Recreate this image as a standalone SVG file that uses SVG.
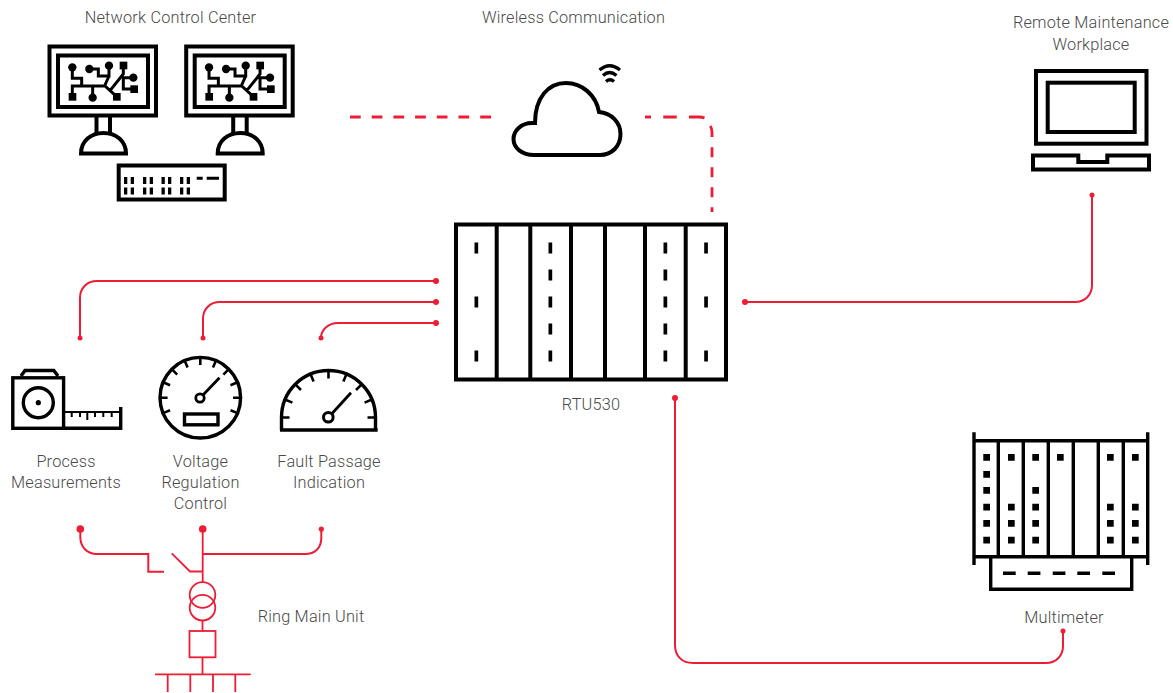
<svg xmlns="http://www.w3.org/2000/svg" width="1173" height="693" viewBox="0 0 1173 693">
<style>
.k{fill:none;stroke:#000;stroke-width:4;stroke-linejoin:miter}
.k3{fill:none;stroke:#000;stroke-width:3.4}
.f{fill:#000}
.r{fill:none;stroke:#ee1c35;stroke-width:2}
.r1{fill:none;stroke:#ee1c35;stroke-width:1.8}
.d{fill:#ee1c35}
.dash{fill:none;stroke:#ee1c35;stroke-width:2.8}
text{font-family:"Roboto","Liberation Sans",sans-serif;font-weight:300;font-size:16.3px;letter-spacing:.2px;fill:#4a4a4a;text-anchor:middle}
</style>
<defs>
<g id="monitor">
<rect class="k" x="49.5" y="46.5" width="106.5" height="69"/>
<rect class="k" x="58" y="55.5" width="90" height="51.5"/>
<path class="k" d="M96.5 116V133M110 116V133"/>
<path class="k" d="M81 153.5C81 141 91 133 103.500 133C116 133 126 141 126 153.500Z"/>
<g transform="translate(55 50) scale(.3333)">
<path fill="none" stroke="#000" stroke-width="9" d="M52 52V85H80V108H52V140M113 143V108M80 108H150L185 140M103 57H130V78H162V47M162 78L150 105M205 47V72L165 122M235 83H205V117H237"/>
<circle cx="52" cy="52" r="12.500" class="f"/><circle cx="103" cy="57" r="12.500" class="f"/><circle cx="162" cy="47" r="12.500" class="f"/><circle cx="113" cy="143" r="12.500" class="f"/><circle cx="235" cy="83" r="12.500" class="f"/>
<rect x="41" y="129" width="23" height="23" class="f"/><rect x="174" y="129" width="23" height="23" class="f"/><rect x="194" y="35" width="23" height="23" class="f"/><rect x="226" y="106" width="23" height="23" class="f"/>
</g>
</g>
</defs>

<g id="connectors">
<path class="dash" d="M350 117H360.700M371.700 117H382.400M393.400 117H404.100M415.100 117H425.800M436.800 117H447.500M458.500 117H469.200M480.200 117H491"/>
<path class="dash" d="M645 117H651M663.300 117H676.700M689 117H699C701 117 703 117.300 704.500 118M710.300 126C711.600 128 712 130 712 132V137M712 147.300V157.300M712 167.300V177.300M712 187.300V197.300M712 207.300V212"/>
<path class="r" d="M436 281H97C87 281 80 288 80 298V338"/>
<path class="r" d="M436 302H220C210 302 203 309 203 319V338"/>
<path class="r" d="M436 323H338C328 323 321 330 321 338"/>
<path class="r" d="M745 302H1075C1085 302 1092 295 1092 285V195"/>
<path class="r" d="M675 398V645C675 656 682 663 693 663H1046C1056 663 1063 656 1063 646V631"/>
<path class="r" d="M80.300 529V537C80.300 547 87 554 97 554H148.300V571.700H164"/>
<path class="r" d="M202.700 554H305C315 554 321.300 548 321.300 538V529"/>
<g class="d">
<circle cx="436" cy="281" r="3"/><circle cx="436" cy="302" r="3"/><circle cx="436" cy="323" r="3"/>
<circle cx="80" cy="338" r="2.500"/><circle cx="203" cy="338" r="2.500"/><circle cx="321" cy="338" r="2.500"/>
<circle cx="745" cy="302" r="3"/><circle cx="1092" cy="195" r="2.500"/><circle cx="675" cy="398" r="3"/><circle cx="1063" cy="631" r="2.500"/>
<circle cx="80.300" cy="529" r="3.800"/><circle cx="202.700" cy="529" r="3.800"/><circle cx="321.300" cy="529" r="2.600"/>
</g>
</g>

<g id="network-control-center">
<use href="#monitor"/>
<use href="#monitor" x="136.700"/>
<rect class="k" x="118.700" y="165.500" width="106" height="34"/>
<g class="f">
<path d="M124 177h3.300v7h-3.300zM130.700 177h3.300v7h-3.300zM143 177h3.300v7h-3.300zM149.700 177h3.300v7h-3.300zM161.500 177h3.300v7h-3.300zM168 177h3.300v7h-3.300zM180 177h3.300v7h-3.300zM186.700 177h3.300v7h-3.300z"/>
<path d="M124 187.500h3.300v7h-3.300zM130.700 187.500h3.300v7h-3.300zM143 187.500h3.300v7h-3.300zM149.700 187.500h3.300v7h-3.300zM161.500 187.500h3.300v7h-3.300zM168 187.500h3.300v7h-3.300zM180 187.500h3.300v7h-3.300zM186.700 187.500h3.300v7h-3.300z"/>
<path d="M196.700 176.700h6v3h-6zM206.700 176.700h12.300v3h-12.300z"/>
</g>
<text x="170.500" y="23">Network Control Center</text>
</g>

<g id="wireless-communication">
<path class="k" d="M534 155H600C612 155 620.500 146 620.500 134C620.500 122 611 113 599 112C596 95 582 83 566 83C548 83 535 98 535 123H532C521 123 513.500 131 513.500 139C513.500 148 522 155 534 155Z"/>
<path fill="none" stroke="#000" stroke-width="3.200" d="M599.500 70Q609.500 61.500 620 70M603 75.500Q609.500 69.500 616.500 75.500M606 81.500Q610 78 614 81.500"/>
<text x="573.500" y="23">Wireless Communication</text>
</g>

<g id="remote-maintenance-workplace">
<rect class="k" x="1036" y="71" width="110.500" height="72.700"/>
<rect class="k" x="1047.700" y="82.700" width="87" height="49.300"/>
<path class="k" d="M1033 155.500H1078.300V162H1107.300V155.500H1149V169.500H1033Z"/>
<text x="1091" y="28">Remote Maintenance</text>
<text x="1091" y="50">Workplace</text>
</g>

<g id="rtu530">
<rect class="k" x="456" y="224.500" width="270" height="155"/>
<path class="k" d="M496.700 224V380M530.300 224V380M571 224V380M605 224V380M645 224V380M685.700 224V380"/>
<g class="f">
<path d="M474.500 242.500h3.700v11h-3.700zM474.500 296.500h3.700v11h-3.700zM474.500 350.500h3.700v11h-3.700z"/>
<path d="M548.500 242.500h3.700v11h-3.700zM548.500 269.500h3.700v11h-3.700zM548.500 296.500h3.700v11h-3.700zM548.500 323.500h3.700v11h-3.700zM548.500 350.500h3.700v11h-3.700z"/>
<path d="M663.500 242.500h3.700v11h-3.700zM663.500 269.500h3.700v11h-3.700zM663.500 296.500h3.700v11h-3.700zM663.500 323.500h3.700v11h-3.700zM663.500 350.500h3.700v11h-3.700z"/>
<path d="M704.200 242.500h3.700v11h-3.700zM704.200 296.500h3.700v11h-3.700zM704.200 350.500h3.700v11h-3.700z"/>
</g>
<text x="591" y="410">RTU530</text>
</g>

<g id="process-measurements">
<rect class="k3" x="12.800" y="377.800" width="50.800" height="50.500"/>
<path class="k3" d="M21 376L25 370.500H53.800L58 376"/>
<circle class="k3" cx="38.300" cy="402.700" r="15"/>
<circle class="f" cx="38.300" cy="402.700" r="2.600"/>
<path fill="none" stroke="#000" stroke-width="2" d="M65 412H119"/>
<path class="k3" d="M63.500 428.300H120.700V407"/>
<path fill="none" stroke="#000" stroke-width="2" d="M71.700 412V417M80 412V417M87.300 412V420M95 412V417M103.300 412V417M111.700 412V417"/>
<text x="66" y="467">Process</text>
<text x="66" y="488">Measurements</text>
</g>

<g id="voltage-regulation-control">
<circle class="k3" cx="200.300" cy="397.700" r="40.300"/>
<path fill="none" stroke="#000" stroke-width="2.600" d="M200.300 357.400V365M216 360.500L213 367.500M228.800 369.200L223.400 374.600M237.500 382.300L230.500 385.200M240.600 397.700H233M237.500 413.100L230.500 410.200M184.600 360.500L187.600 367.500M171.800 369.200L177.200 374.600M163.100 382.300L170.100 385.200M160 397.700H167.600M163.100 413.100L170.100 410.200"/>
<circle fill="none" stroke="#000" stroke-width="2.800" cx="200" cy="398" r="4.200"/>
<path fill="none" stroke="#000" stroke-width="2.800" d="M203 395L219.500 377.800"/>
<rect class="k3" x="184.500" y="414" width="33.500" height="10.800"/>
<text x="200.500" y="467">Voltage</text>
<text x="200.500" y="488">Regulation</text>
<text x="200.500" y="509">Control</text>
</g>

<g id="fault-passage-indication">
<path class="k3" d="M281.500 430V417.500A47 47 0 0 1 375.500 417.500V430M280 430H377.700"/>
<path fill="none" stroke="#000" stroke-width="2.600" d="M328.500 370.500V378.500M346.500 374L343.400 381.400M361.700 384.300L356 390M372 399.500L364.600 402.600M375.500 417.500H367.500M310.500 374L313.600 381.400M295.300 384.300L301 390M285 399.500L292.400 402.600M281.500 417.500H289.500"/>
<circle fill="none" stroke="#000" stroke-width="3" cx="328.300" cy="417.300" r="4.800"/>
<path fill="none" stroke="#000" stroke-width="2.800" d="M331.600 414L351 392.800"/>
<text x="329" y="467">Fault Passage</text>
<text x="329" y="488">Indication</text>
</g>

<g id="ring-main-unit">
<path class="r1" d="M202.700 529V582M171.700 553.300L190 571.500H202.700"/>
<circle class="r1" cx="202.500" cy="595" r="12.800"/>
<circle class="r1" cx="202.500" cy="607.700" r="12.800"/>
<path class="r1" d="M202.500 620.500V631M202.500 657.300V674.300M155 674.300H250.700M167.700 674.300V692M190.300 674.300V692M213 674.300V692M235.300 674.300V692"/>
<rect class="r1" x="189.500" y="631" width="26" height="26.300"/>
<text x="311" y="622">Ring Main Unit</text>
</g>

<g id="multimeter">
<path class="k3" d="M974 432.300V565M1147.700 432.300V565M974 440.700H1147.700M974 556.700H1147.700M998.300 440.700V556.700M1023.300 440.700V556.700M1048.300 440.700V556.700M1073.300 440.700V556.700M1098.300 440.700V556.700M1123.300 440.700V556.700"/>
<path class="k3" d="M990.700 556.700V589.300H1131.700V556.700"/>
<g class="f">
<path d="M983.300 454h6.700v6.700h-6.700zM983.300 471h6.700v6.700h-6.700zM983.300 487h6.700v6.700h-6.700zM983.300 503.700h6.700v6.700h-6.700zM983.300 520h6.700v6.700h-6.700zM983.300 536.700h6.700v6.700h-6.700z"/>
<path d="M1008 454h6.700v6.700h-6.700zM1008 503.700h6.700v6.700h-6.700zM1008 520h6.700v6.700h-6.700zM1008 536.700h6.700v6.700h-6.700z"/>
<path d="M1032.300 454h6.700v6.700h-6.700zM1032.300 487h6.700v6.700h-6.700zM1032.300 503.700h6.700v6.700h-6.700zM1032.300 520h6.700v6.700h-6.700zM1032.300 536.700h6.700v6.700h-6.700z"/>
<path d="M1057 454h6.700v6.700h-6.700z"/>
<path d="M1107 454h6.700v6.700h-6.700zM1107 503.700h6.700v6.700h-6.700zM1107 520h6.700v6.700h-6.700zM1107 536.700h6.700v6.700h-6.700z"/>
<path d="M1132 454h6.700v6.700h-6.700zM1132 503.700h6.700v6.700h-6.700zM1132 520h6.700v6.700h-6.700zM1132 536.700h6.700v6.700h-6.700z"/>
<path d="M1003 571.500h12.700v3.500h-12.700zM1027.700 571.500h12.700v3.500h-12.700zM1052.700 571.500h12.700v3.500h-12.700zM1077.300 571.500h12.700v3.500h-12.700zM1102.300 571.500h12.700v3.500h-12.700z"/>
</g>
<text x="1064" y="623">Multimeter</text>
</g>
</svg>
